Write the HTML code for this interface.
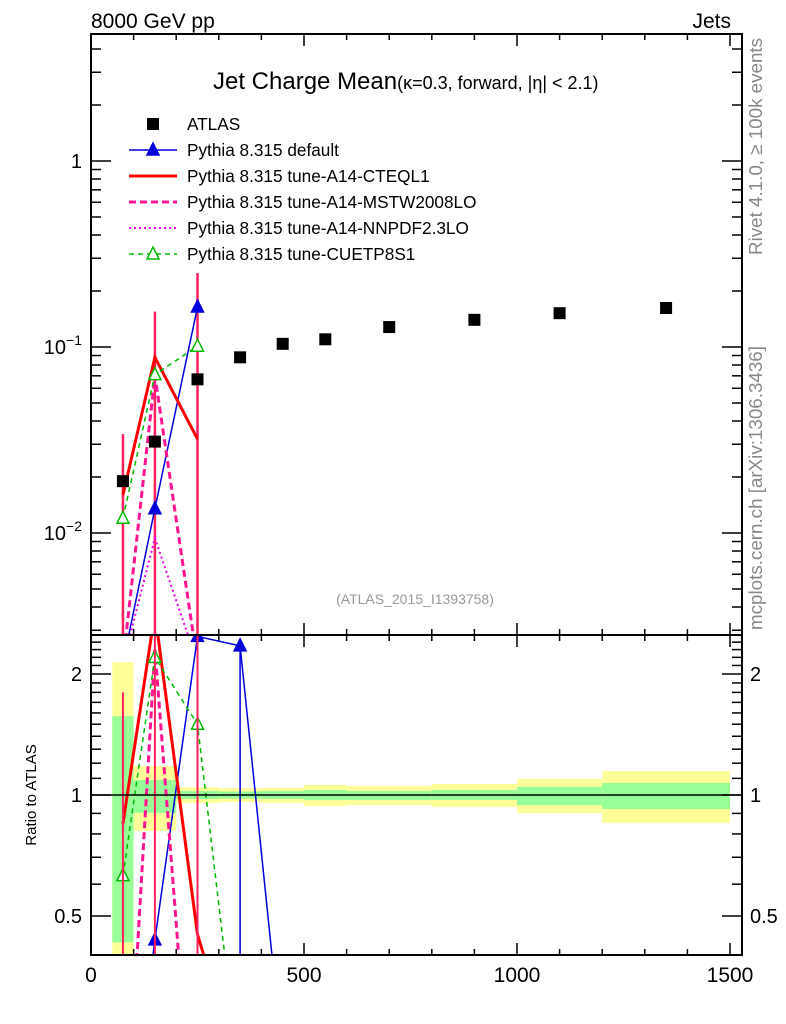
<!DOCTYPE html>
<html><head><meta charset="utf-8"><style>
html,body{margin:0;padding:0;background:#fff;width:786px;height:1024px;overflow:hidden}
svg{display:block;font-family:"Liberation Sans","DejaVu Sans",sans-serif}
</style></head><body>
<svg id="chart" width="786" height="1024" viewBox="0 0 786 1024" xmlns="http://www.w3.org/2000/svg">
<defs>
<clipPath id="cm"><rect x="91" y="34" width="651" height="601"/></clipPath>
<clipPath id="cr"><rect x="91" y="635" width="651" height="320"/></clipPath>
</defs>
<g id="bands" clip-path="url(#cr)"></g>
<g id="ticks"></g>
<g id="mainMarks" clip-path="url(#cm)"></g>
<g id="ratioMarks" clip-path="url(#cr)"></g>
<rect x="91" y="34" width="651" height="601" fill="none" stroke="#000" stroke-width="2"/>
<rect x="91" y="635" width="651" height="320" fill="none" stroke="#000" stroke-width="2"/>
<line x1="91" y1="795" x2="742" y2="795" stroke="#000" stroke-width="1.5"/>
<text x="91" y="28" font-size="21">8000 GeV pp</text>
<text x="731" y="28" font-size="21" text-anchor="end">Jets</text>
<text x="213" y="89" font-size="24">Jet Charge Mean<tspan font-size="18">(κ=0.3, forward, |η| &lt; 2.1)</tspan></text>
<text x="415" y="604" font-size="14" fill="#999" text-anchor="middle">(ATLAS_2015_I1393758)</text>
<text transform="translate(762,255) rotate(-90)" font-size="18.8" fill="#888">Rivet 4.1.0, ≥ 100k events</text>
<text transform="translate(762,630) rotate(-90)" font-size="18.8" fill="#888">mcplots.cern.ch [arXiv:1306.3436]</text>
<text transform="translate(36,795) rotate(-90)" font-size="15" text-anchor="middle">Ratio to ATLAS</text>
<g id="legend" font-size="17.2"></g>
</svg>
<script>
const xCats=[75,150,250,350,450,550,700,900,1100,1350];
const binEdges=[50,100,200,300,400,500,600,800,1000,1200,1500];
const atlas=[0.019,0.031,0.067,0.088,0.104,0.110,0.128,0.140,0.152,0.162];
const pyDefault=[0.002,0.0135,0.164];
const pyCTEQ=[0.016,0.088,0.032];
const pyMSTW=[0.002,0.070,0.002];
const pyNNPDF=[0.002,0.0094,0.002];
const pyCUETP=[0.012,0.071,0.101];
const rDefault=[0.1,0.436,2.48,2.35,0.22];
const rCTEQ=[0.85,2.84,0.45,0.2];
const rMSTW=[0.1,2.3,0.1];
const rNNPDF=[0.1,0.3,0.1];
const rCUETP=[0.63,2.2,1.5,0.19];
const bandYelHi=[2.14,1.18,1.045,1.04,1.041,1.059,1.053,1.065,1.096,1.147];
const bandYelLo=[0.38,0.814,0.955,0.96,0.955,0.939,0.944,0.934,0.902,0.852];
const bandGrnHi=[1.57,1.09,1.023,1.02,1.023,1.029,1.023,1.029,1.047,1.071];
const bandGrnLo=[0.43,0.902,0.977,0.98,0.977,0.972,0.972,0.972,0.944,0.923];
const xTicks=[0,500,1000,1500];
const yMainTicks=[1,0.1,0.01];
const yRatioTicks=[2,1,0.5];

const NS="http://www.w3.org/2000/svg";
const X=v=>91+0.426*v;
const YM=v=>161-186*Math.log10(v);
const YR=r=>795-402*Math.log10(r);
function mk(tag,attrs,parent){const e=document.createElementNS(NS,tag);for(const k in attrs)e.setAttribute(k,attrs[k]);parent.appendChild(e);return e;}
const gB=document.getElementById('bands'),gT=document.getElementById('ticks'),gM=document.getElementById('mainMarks'),gR=document.getElementById('ratioMarks'),gL=document.getElementById('legend'),svg=document.getElementById('chart');

function clipSeg(x1,y1,x2,y2,lo,hi){
  let t0=0,t1=1;const dy=y2-y1;
  if(dy===0){return (y1<lo||y1>hi)?null:[x1,y1,x2,y2];}
  let ta=(lo-y1)/dy,tb=(hi-y1)/dy;if(ta>tb)[ta,tb]=[tb,ta];
  t0=Math.max(t0,ta);t1=Math.min(t1,tb);if(t0>t1)return null;
  return [x1+(x2-x1)*t0,y1+dy*t0,x1+(x2-x1)*t1,y1+dy*t1];
}

for(let i=0;i<xCats.length;i++){
  const x0=X(binEdges[i]),x1=X(binEdges[i+1]);
  const yh=Math.max(635,YR(bandYelHi[i])),yl=Math.min(955,YR(bandYelLo[i]));
  const y=mk('rect',{x:x0,y:yh,width:x1-x0,height:yl-yh,fill:'#ffff99'},gB);
  
  
  const gh=Math.max(635,YR(bandGrnHi[i])),gl=Math.min(955,YR(bandGrnLo[i]));
  const g=mk('rect',{x:x0,y:gh,width:x1-x0,height:gl-gh,fill:'#99ff99'},gB);
  
  
}
for(let v=0;v<=1500;v+=100){
  const maj=v%500===0,L=maj?12:6,x=X(v);
  for(const [y0,dir] of [[635,-1],[34,1],[955,-1],[635,1]]){
    const t=mk('line',{x1:x,x2:x,y1:y0,y2:y0+dir*L,stroke:'#000','stroke-width':1.5},gT);
    
    
  }
}
xTicks.forEach(v=>{const t=mk('text',{x:X(v),y:982,'font-size':21,'text-anchor':'middle'},svg);t.textContent=v;
  
  });
for(let n=-3;n<=0;n++)for(let k=1;k<10;k++){
  const v=k*Math.pow(10,n),y=YM(v);if(y<34||y>635)continue;
  const L=k===1?20:10;
  for(const [x0,d] of [[91,1],[742,-1]]){
    const t=mk('line',{x1:x0,x2:x0+d*L,y1:y,y2:y,stroke:'#000','stroke-width':1.5},gT);
    
    
  }
}
yMainTicks.forEach(v=>{
  const t=mk('text',{x:82,y:YM(v)+7,'font-size':20,'text-anchor':'end'},svg);
  
  
  if(v===1)t.textContent='1';
  else{t.textContent='10';const s=mk('tspan',{dy:-9,'font-size':14},t);s.textContent=String(Math.round(Math.log10(v))).replace('-','−');}
});
for(let r=0.4;r<=2.51;r+=0.1){
  const rr=Math.round(r*10)/10,y=YR(rr);if(y<635||y>955)continue;
  const L=(rr===0.5||rr===1||rr===2)?20:10;
  for(const [x0,d] of [[91,1],[742,-1]]){
    const t=mk('line',{x1:x0,x2:x0+d*L,y1:y,y2:y,stroke:'#000','stroke-width':1.5},gT);
    
    
  }
}
yRatioTicks.forEach(v=>{
  for(const [x,a] of [[82,'end'],[750,'start']]){
    const t=mk('text',{x:x,y:YR(v)+7,'font-size':20,'text-anchor':a},svg);t.textContent=v;
    
    
  }
});

const series=[
 {name:'pythia-default',main:pyDefault,ratio:rDefault,color:'#0000dd',w:1.5,dash:'',marker:'tri-fill'},
 {name:'pythia-a14-cteql1',main:pyCTEQ,ratio:rCTEQ,color:'#ff0000',w:3,dash:'',marker:''},
 {name:'pythia-a14-mstw2008lo',main:pyMSTW,ratio:rMSTW,color:'#ff1493',w:3,dash:'7,4',marker:''},
 {name:'pythia-a14-nnpdf23lo',main:pyNNPDF,ratio:rNNPDF,color:'#ee00ee',w:2,dash:'2,3',marker:''},
 {name:'pythia-cuetp8s1',main:pyCUETP,ratio:rCUETP,color:'#00bb00',w:1.5,dash:'5,4',marker:'tri-open'}
];
function tri(parent,x,y,s,type,name){
  const p=mk('polygon',{points:`${x},${y-7} ${x-6},${y+5} ${x+6},${y+5}`,fill:type==='tri-fill'?s.color:'#fff',stroke:s.color,'stroke-width':1.5},parent);
  
  
}
function drawSeries(s,vals,Y,parent,suffix,lo,hi){
  let d='';let last=null;
  for(let i=0;i<vals.length-1;i++){
    const c=clipSeg(X(xCats[i]),Y(vals[i]),X(xCats[i+1]),Y(vals[i+1]),lo,hi);
    if(!c){last=null;continue;}
    if(!last||Math.abs(last[0]-c[0])>0.01||Math.abs(last[1]-c[1])>0.01)d+=`M${c[0]},${c[1]}`;
    d+=`L${c[2]},${c[3]}`;last=[c[2],c[3]];
  }
  const l=mk('path',{d:d,fill:'none',stroke:s.color,'stroke-width':s.w,'stroke-dasharray':s.dash},parent);
  
  
  if(s.marker)vals.forEach((v,i)=>{const y=Y(v);if(y>=lo&&y<=hi)tri(parent,X(xCats[i]),y,s,s.marker,s.name+'-marker'+suffix);});
}
const errTopMain=[0.034,0.155,0.25];
errTopMain.forEach((v,i)=>{
  const e=mk('line',{x1:X(xCats[i]),x2:X(xCats[i]),y1:YM(v),y2:635,stroke:'#ff2060','stroke-width':2.5},gM);
  
  
});
series.forEach(s=>drawSeries(s,s.main,YM,gM,'',30,640));
series.forEach(s=>drawSeries(s,s.ratio,YR,gR,'-ratio',630,960));
[[75,1.8],[150,2.6],[250,2.6]].forEach(([c,t])=>{
  const e=mk('line',{x1:X(c),x2:X(c),y1:Math.max(635,YR(t)),y2:955,stroke:'#ff2060','stroke-width':2},gR);
  
  
});
const eb=mk('line',{x1:X(350),x2:X(350),y1:YR(2.35),y2:955,stroke:'#0000dd','stroke-width':1.5},gR);


atlas.forEach((v,i)=>{
  const r=mk('rect',{x:X(xCats[i])-6,y:YM(v)-6,width:12,height:12,fill:'#000'},gM);
  
  
});
const labels=['ATLAS','Pythia 8.315 default','Pythia 8.315 tune-A14-CTEQL1','Pythia 8.315 tune-A14-MSTW2008LO','Pythia 8.315 tune-A14-NNPDF2.3LO','Pythia 8.315 tune-CUETP8S1'];
labels.forEach((lab,i)=>{
  const y=124+i*26;
  const g=mk('g',{},gL);
  
  
  if(i===0){mk('rect',{x:147,y:y-6,width:12,height:12,fill:'#000'},g);}
  else{const s=series[i-1];
    mk('line',{x1:129,x2:177,y1:y,y2:y,stroke:s.color,'stroke-width':s.w,'stroke-dasharray':s.dash},g);
    if(s.marker)tri(g,153,y,s,s.marker,'legend-marker');}
  const t=mk('text',{x:187,y:y+6},g);t.textContent=lab;
});
</script>
</body></html>
